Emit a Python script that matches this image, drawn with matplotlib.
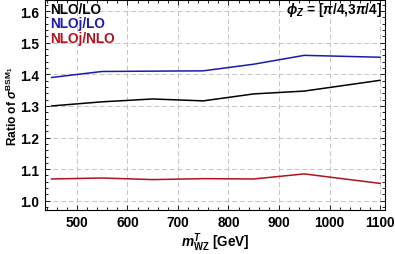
import matplotlib
matplotlib.use("Agg")
import matplotlib.pyplot as plt
from matplotlib.ticker import MultipleLocator

plt.rcParams['font.family'] = ['Liberation Sans', 'DejaVu Sans']
plt.rcParams['font.weight'] = 'bold'
plt.rcParams['axes.labelweight'] = 'bold'
plt.rcParams['mathtext.fontset'] = 'custom'
plt.rcParams['mathtext.rm'] = 'Liberation Sans:bold'
plt.rcParams['mathtext.it'] = 'Liberation Sans:italic:bold'
plt.rcParams['mathtext.bf'] = 'Liberation Sans:bold'

# data
m_wz = [450, 550, 650, 750, 850, 950, 1100]
nlo_lo = [1.300, 1.313, 1.322, 1.316, 1.338, 1.347, 1.381]
nloj_lo = [1.390, 1.409, 1.410, 1.411, 1.432, 1.460, 1.454]
nloj_nlo = [1.069, 1.072, 1.067, 1.070, 1.069, 1.085, 1.055]

c_black = "#000000"
c_blue = "#1a1aae"
c_red = "#b0121b"

fs = 9.8

fig = plt.figure(figsize=(3.95, 2.55), dpi=100)
ax = fig.add_axes([0.114, 0.174, 0.861, 0.822])

ax.plot(m_wz, nlo_lo, color=c_black, lw=1.1)
ax.plot(m_wz, nloj_lo, color=c_blue, lw=1.1)
ax.plot(m_wz, nloj_nlo, color=c_red, lw=1.1)

ax.set_xlim(437, 1110)
ax.set_ylim(0.972, 1.635)
ax.xaxis.set_major_locator(MultipleLocator(100))
ax.xaxis.set_minor_locator(MultipleLocator(20))
ax.yaxis.set_major_locator(MultipleLocator(0.1))
ax.yaxis.set_minor_locator(MultipleLocator(0.02))
ax.yaxis.set_major_formatter(plt.FuncFormatter(lambda v, p: f"{v:.1f}"))
ax.tick_params(which="both", direction="in", top=True, right=True,
               labelsize=fs, width=0.6)
ax.tick_params(which="major", length=3.5, pad=4)
ax.tick_params(which="minor", length=2)
for s in ax.spines.values():
    s.set_linewidth(0.8)
ax.grid(which="major", color="#c4c4c4", ls=(0, (5, 3)), lw=0.7)
ax.set_axisbelow(True)

ax.set_xlabel(r"$m_{\mathrm{WZ}}^{T}$ [GeV]", fontsize=fs, labelpad=1)
ax.set_ylabel(r"Ratio of $\sigma^{\mathrm{BSM}_1}$", fontsize=8.6)
ax.yaxis.set_label_coords(-0.073, 0.5)

ax.text(0.015, 0.955, "NLO/LO", color=c_black, fontsize=fs, transform=ax.transAxes, va="center")
ax.text(0.015, 0.89, "NLOj/LO", color=c_blue, fontsize=fs, transform=ax.transAxes, va="center")
ax.text(0.015, 0.82, "NLOj/NLO", color=c_red, fontsize=fs, transform=ax.transAxes, va="center")
ax.text(0.99, 0.955, r"$\phi_Z$ = [$\pi$/4,3$\pi$/4]", fontsize=fs,
        transform=ax.transAxes, va="center", ha="right")

fig.savefig("out.png", dpi=100)
